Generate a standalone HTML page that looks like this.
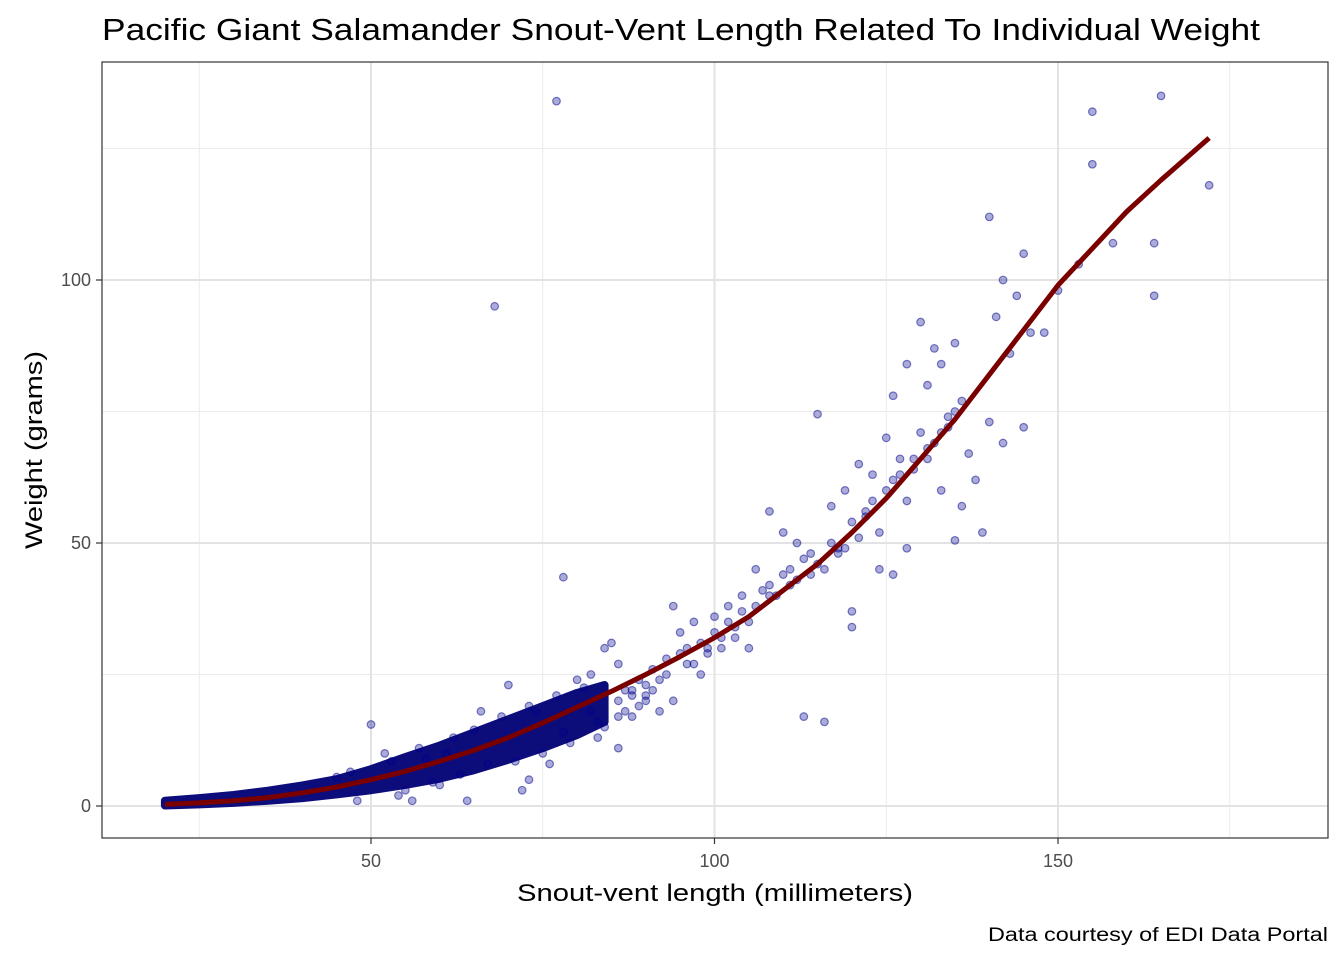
<!DOCTYPE html>
<html><head><meta charset="utf-8"><style>
body{margin:0;background:#fff;}
svg text{font-family:"Liberation Sans",Arial,sans-serif;}
</style></head><body>
<svg id="chart" width="1344" height="960" xmlns="http://www.w3.org/2000/svg">
<rect width="1344" height="960" fill="#fff"/>
<text x="102" y="40" font-size="31" textLength="1158" lengthAdjust="spacingAndGlyphs" fill="#000">Pacific Giant Salamander Snout-Vent Length Related To Individual Weight</text>
<g id="grid"></g>
<g id="band"></g>
<g id="pts"></g>
<g id="fit"></g>
<rect x="102" y="62" width="1226" height="776" fill="none" stroke="#333" stroke-width="1.2"/>
<g id="axes"></g>
<text x="715" y="901" font-size="24" textLength="396" lengthAdjust="spacingAndGlyphs" text-anchor="middle" fill="#000">Snout-vent length (millimeters)</text>
<text transform="translate(42,450) rotate(-90)" font-size="24" textLength="198" lengthAdjust="spacingAndGlyphs" text-anchor="middle" fill="#000">Weight (grams)</text>
<text x="1328" y="941" font-size="19" textLength="340" lengthAdjust="spacingAndGlyphs" text-anchor="end" fill="#000">Data courtesy of EDI Data Portal</text>
</svg>
<script>
const xMajor=[50,100,150];
const xMinor=[25,75,125,175];
const yMajor=[0,50,100];
const yMinor=[25,75,125];
const bandX=[20,25,30,35,40,45,50,55,60,65,70,75,80,84];
const bandLow=[0.1,0.3,0.6,1.0,1.5,2.2,3.0,4.0,5.2,6.8,8.8,11,13.5,16];
const bandHigh=[1.0,1.5,2.1,2.9,3.9,5.1,7.0,9.3,11.5,14,16.5,19,21.5,23];
const ptX=[77,68,78,155,165,155,172,158,164,164,140,145,142,144,141,148,130,132,135,128,133,126,131,125,130,115,134,140,142,145,138,136,139,135,128,124,126,120,120,113,116,119,121,123,117,122,110,108,112,106,104,102,100,97,96,94,95,98,92,94,86,85,84,88,86,83,90,105,103,108,111,114,118,116,124,128,131,127,133,137,146,150,153,78,76,72,73,64,56,60,50,52,70,66,74,80,82,61,58,54,48,
86,87,88,89,90,91,92,93,95,96,98,99,100,101,102,103,104,106,107,109,110,112,113,115,117,118,120,122,125,127,129,132,134,136,87,89,91,93,97,99,101,105,108,111,114,119,121,123,126,129,131,133,135,143,86,84,82,88,90,
45,47,53,55,57,59,62,63,65,67,69,71,73,75,77,79,81,83];
const ptY=[134,95,43.5,132,135,122,118,107,107,97,112,105,100,97,93,90,92,87,88,84,84,78,80,70,71,74.5,72,73,69,72,62,57,52,50.5,49,45,44,37,34,17,16,60,65,63,57,55,52,56,50,45,40,38,36,35,30,38,33,25,18,20,27,31,30,22,11,16,20,30,32,42,45,48,48,45,52,58,66,66,60,67,90,98,103,14,8,3,5,1,1,4,15.5,10,23,18,18,24,25,10,9,2,1,
20,22,21,24,23,26,24,28,29,27,31,30,33,32,35,34,37,38,41,40,44,43,47,46,50,49,54,56,60,63,66,69,74,77,18,19,22,25,27,29,30,35,40,42,44,49,51,58,62,64,68,71,75,86,17,15,18,17,21,
5.5,6.5,8.5,3,11,4.5,13,6,14.5,8,17,8.5,19,10,21,12,22.5,13];
const curveX=[20,25,30,35,40,45,50,55,60,65,70,75,80,85,90,95,100,105,110,115,120,125,130,135,140,145,150,155,160,165,172];
const curveY=[0.3,0.6,1.0,1.6,2.5,3.6,5,6.6,8.5,10.6,13,15.8,18.8,21.8,25,28.4,32,36,41,46,52,58.5,66,73.5,82,90.5,99,106,113,119,127];
const X=v=>27.5+v*6.87, Y=v=>806-v*5.26;
const NS='http://www.w3.org/2000/svg';
function mk(t,a,p){const e=document.createElementNS(NS,t);for(const k in a)e.setAttribute(k,a[k]);p.appendChild(e);return e;}
const g=document.getElementById('grid');
xMinor.forEach(v=>{const e=mk('line',{x1:X(v),x2:X(v),y1:62,y2:838,stroke:'#ebebeb','stroke-width':1},g);

});
yMinor.forEach(v=>{const e=mk('line',{x1:102,x2:1328,y1:Y(v),y2:Y(v),stroke:'#ebebeb','stroke-width':1},g);

});
xMajor.forEach(v=>{const e=mk('line',{x1:X(v),x2:X(v),y1:62,y2:838,stroke:'#e3e3e3','stroke-width':2},g);

});
yMajor.forEach(v=>{const e=mk('line',{x1:102,x2:1328,y1:Y(v),y2:Y(v),stroke:'#e3e3e3','stroke-width':2},g);

});
const b=document.getElementById('band');
let d='M'+bandX.map((x,i)=>X(x)+','+Y(bandHigh[i])).join(' L')+' L'+bandX.map((x,i)=>X(x)+','+Y(bandLow[i])).reverse().join(' L')+'Z';
const poly=mk('path',{d:d,fill:'#0c0c7a',stroke:'#0c0c7a','stroke-width':8,'stroke-linejoin':'round'},b);


const p=document.getElementById('pts');
ptX.forEach((x,i)=>{const c=mk('circle',{cx:X(x),cy:Y(ptY[i]),r:3.8,fill:'rgba(0,0,139,0.33)',stroke:'rgba(0,0,139,0.5)','stroke-width':1.2},p);

});
const f=document.getElementById('fit');
const l=mk('polyline',{points:curveX.map((x,i)=>X(x)+','+Y(curveY[i])).join(' '),fill:'none',stroke:'#7a0000','stroke-width':5,'stroke-linejoin':'round'},f);


const a=document.getElementById('axes');
xMajor.forEach(v=>{mk('line',{x1:X(v),x2:X(v),y1:838,y2:844,stroke:'#333','stroke-width':1.2},a);
const t=mk('text',{x:X(v),y:867,'font-size':18,'text-anchor':'middle',fill:'#4d4d4d'},a);t.textContent=v;

});
yMajor.forEach(v=>{mk('line',{x1:96,x2:102,y1:Y(v),y2:Y(v),stroke:'#333','stroke-width':1.2},a);
const t=mk('text',{x:91,y:Y(v)+6,'font-size':18,'text-anchor':'end',fill:'#4d4d4d'},a);t.textContent=v;

});
</script>
</body></html>
